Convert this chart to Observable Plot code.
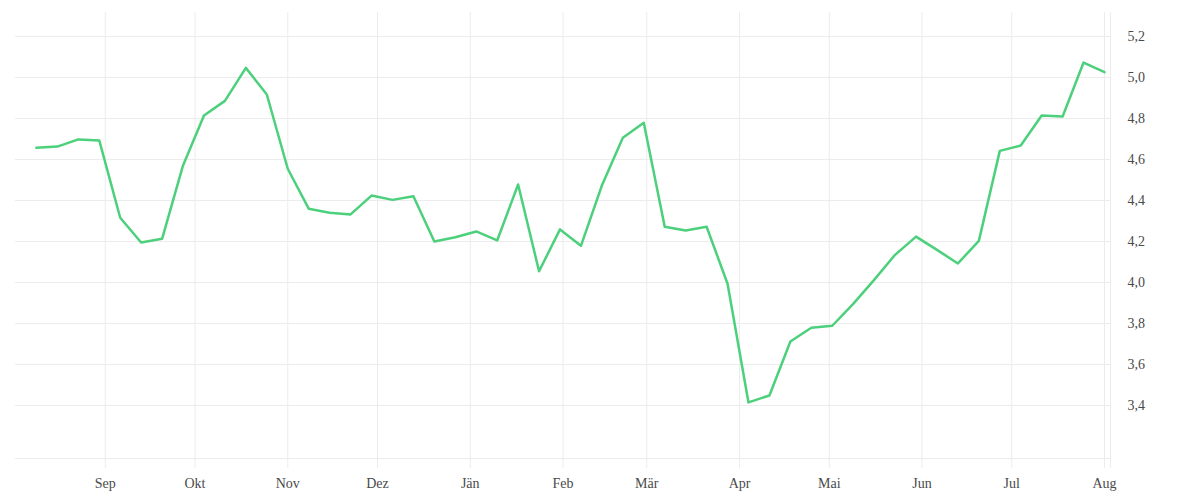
<!DOCTYPE html>
<html>
<head>
<meta charset="utf-8">
<script src="https://cdn.jsdelivr.net/npm/d3@7"></script>
<script src="https://cdn.jsdelivr.net/npm/@observablehq/plot@0.6"></script>
<style>
  html, body { margin: 0; padding: 0; background: #fff; }
  #chart svg { display: block; }
</style>
</head>
<body>
<div id="chart"></div>
<script>
// Weekly dates (Tuesdays)
const dates = [
  "2022-08-09","2022-08-16","2022-08-23","2022-08-30",
  "2022-09-06","2022-09-13","2022-09-20","2022-09-27",
  "2022-10-04","2022-10-11","2022-10-18","2022-10-25",
  "2022-11-01","2022-11-08","2022-11-15","2022-11-22","2022-11-29",
  "2022-12-06","2022-12-13","2022-12-20","2022-12-27",
  "2023-01-03","2023-01-10","2023-01-17","2023-01-24","2023-01-31",
  "2023-02-07","2023-02-14","2023-02-21","2023-02-28",
  "2023-03-07","2023-03-14","2023-03-21","2023-03-28",
  "2023-04-04","2023-04-11","2023-04-18","2023-04-25",
  "2023-05-02","2023-05-09","2023-05-16","2023-05-23","2023-05-30",
  "2023-06-06","2023-06-13","2023-06-20","2023-06-27",
  "2023-07-04","2023-07-11","2023-07-18","2023-07-25",
  "2023-08-01"
];
const values = [
  4.657, 4.663, 4.698, 4.693,
  4.316, 4.195, 4.213, 4.571,
  4.815, 4.886, 5.047, 4.917,
  4.555, 4.360, 4.340, 4.332, 4.424,
  4.403, 4.421, 4.200, 4.221,
  4.249, 4.205, 4.478, 4.055, 4.259,
  4.179, 4.473, 4.706, 4.779,
  4.272, 4.254, 4.272, 3.994,
  3.415, 3.449, 3.712, 3.779,
  3.789, 3.896, 4.013, 4.135, 4.224,
  4.159, 4.093, 4.203, 4.642,
  4.668, 4.815, 4.810, 5.073,
  5.026
];
// Month tick positions and labels
const monthTicks = [
  "2022-09-01","2022-10-01","2022-11-01","2022-12-01","2023-01-01","2023-02-01",
  "2023-03-01","2023-04-01","2023-05-01","2023-06-01","2023-07-01","2023-08-01"
];
const monthLabels = ["Sep","Okt","Nov","Dez","Jän","Feb","Mär","Apr","Mai","Jun","Jul","Aug"];
const yTicks = [3.4, 3.6, 3.8, 4.0, 4.2, 4.4, 4.6, 4.8, 5.0, 5.2];
const xDomain = ["2022-08-02", "2023-08-03"];
const yDomain = [3.1415, 5.317];

const data = dates.map((d, i) => ({date: new Date(d), value: values[i]}));
const tickDates = monthTicks.map(d => new Date(d));
const xEnd = new Date(xDomain[1]);
const labelOf = new Map(tickDates.map((d, i) => [+d, monthLabels[i]]));

const gridColor = "#ececec";
const textColor = "#4a4a4a";

const chart = Plot.plot({
  width: 1200,
  height: 500,
  marginLeft: 15,
  marginRight: 90,
  marginTop: 12,
  marginBottom: 42,
  style: {fontFamily: "'Liberation Serif', serif", fontSize: "14px", background: "#fff"},
  x: {type: "utc", domain: xDomain.map(d => new Date(d)), label: null},
  y: {domain: yDomain, label: null},
  marks: [
    Plot.gridY(yTicks, {stroke: gridColor, strokeOpacity: 1}),
    Plot.ruleY([yDomain[0]], {stroke: gridColor}),
    Plot.gridX(tickDates.concat([xEnd]), {stroke: gridColor, strokeOpacity: 1}),
    Plot.axisX(tickDates.concat([xEnd]), {
      tickSize: 10, tickPadding: 10, stroke: gridColor, fill: textColor, label: null,
      tickFormat: d => labelOf.get(+d) ?? ""
    }),
    Plot.axisY(yTicks, {
      anchor: "right", tickSize: 0, tickPadding: 17, fill: textColor, label: null,
      tickFormat: d => d.toFixed(1).replace(".", ",")
    }),
    Plot.lineY(data, {x: "date", y: "value", stroke: "#4cd07c", strokeWidth: 2.5, curve: "linear"})
  ]
});
document.getElementById("chart").append(chart);
</script>
</body>
</html>
